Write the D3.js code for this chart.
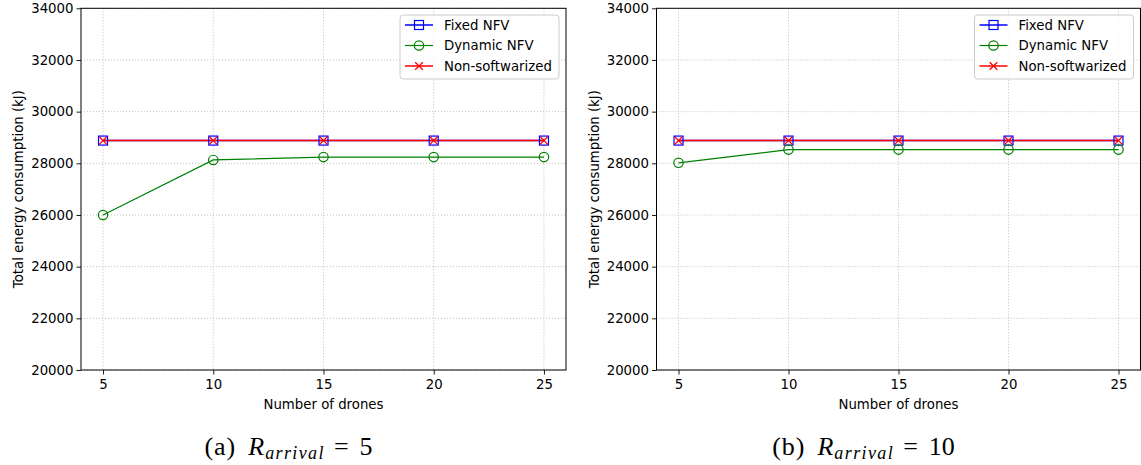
<!DOCTYPE html>
<html><head><meta charset="utf-8">
<script src="https://cdn.jsdelivr.net/npm/d3@7"></script>
<style>body{margin:0;background:#fff}svg{display:block}</style>
</head><body>
<svg id="c" width="1141" height="465"></svg>
<script>
const drones = [5, 10, 15, 20, 25];
const xTicks = [5, 10, 15, 20, 25];
const yTicks = [20000, 22000, 24000, 26000, 28000, 30000, 32000, 34000];
const fixedA = [28880, 28880, 28880, 28880, 28880];
const dynamicA = [26000, 28130, 28240, 28240, 28240];
const nonSoftA = [28880, 28880, 28880, 28880, 28880];
const fixedB = [28880, 28880, 28880, 28880, 28880];
const dynamicB = [28020, 28530, 28530, 28530, 28530];
const nonSoftB = [28880, 28880, 28880, 28880, 28880];
const seriesNames = ["Fixed NFV", "Dynamic NFV", "Non-softwarized"];
const captionLetters = ["(a)", "(b)"];
const captionValues = ["5", "10"];

const svg = d3.select("#c");
const font = "'DejaVu Sans', sans-serif";
const colors = ["#0000ff", "#008000", "#ff0000"];

function drawMarker(g, type, x, y) {
  if (type === 0) {
    g.append("rect").attr("x", x - 4.5).attr("y", y - 4.5).attr("width", 9).attr("height", 9)
      .attr("fill", "none").attr("stroke", colors[0]).attr("stroke-width", 1.2);
  } else if (type === 1) {
    g.append("circle").attr("cx", x).attr("cy", y).attr("r", 4.7)
      .attr("fill", "none").attr("stroke", colors[1]).attr("stroke-width", 1.2);
  } else {
    const s = 3.8;
    g.append("path").attr("d", `M${x-s},${y-s}L${x+s},${y+s}M${x-s},${y+s}L${x+s},${y-s}`)
      .attr("stroke", colors[2]).attr("stroke-width", 1.3).attr("fill", "none");
  }
}

function panel(left, right, data, caption, capVal) {
  const top = 8.3, bottom = 370;
  const x = d3.scaleLinear().domain([4, 26]).range([left, right]);
  const y = d3.scaleLinear().domain([20000, 34000]).range([bottom, top]);
  const g = svg.append("g");
  g.selectAll(".gx").data(xTicks).enter().append("line")
    .attr("x1", d => x(d)).attr("x2", d => x(d)).attr("y1", top).attr("y2", bottom)
    .attr("stroke", "#b0b0b0").attr("stroke-width", 0.8).attr("stroke-dasharray", "1,2");
  g.selectAll(".gy").data(yTicks).enter().append("line")
    .attr("x1", left).attr("x2", right).attr("y1", d => y(d)).attr("y2", d => y(d))
    .attr("stroke", "#b0b0b0").attr("stroke-width", 0.8).attr("stroke-dasharray", "1,2");
  const ax = g.append("g").attr("transform", `translate(0,${bottom})`)
    .call(d3.axisBottom(x).tickValues(xTicks).tickSize(4.5).tickPadding(5).tickSizeOuter(0));
  const ay = g.append("g").attr("transform", `translate(${left},0)`)
    .call(d3.axisLeft(y).tickValues(yTicks).tickSize(4.5).tickPadding(3).tickSizeOuter(0).tickFormat(d3.format("d")));
  [ax, ay].forEach(a => {
    a.select(".domain").remove();
    a.selectAll("line").attr("stroke", "#000").attr("stroke-width", 0.9);
    a.selectAll("text").attr("font-family", font).attr("font-size", 13.3).attr("fill", "#000");
  });
  g.append("rect").attr("x", left).attr("y", top).attr("width", right - left).attr("height", bottom - top)
    .attr("fill", "none").attr("stroke", "#000").attr("stroke-width", 1);
  const line = d3.line().x((d, i) => x(drones[i])).y(d => y(d));
  data.forEach((vals, k) => {
    g.append("path").datum(vals).attr("d", line).attr("fill", "none")
      .attr("stroke", colors[k]).attr("stroke-width", k === 1 ? 1.2 : 1.5);
  });
  data.forEach((vals, k) => {
    vals.forEach((v, i) => drawMarker(g, k, x(drones[i]), y(v)));
  });
  const cx = (left + right) / 2;
  g.append("text").attr("x", cx).attr("y", 409).attr("text-anchor", "middle")
    .attr("font-family", font).attr("font-size", 13.3).text("Number of drones");
  g.append("text").attr("transform", `translate(${left - 58},${(top + bottom) / 2}) rotate(-90)`)
    .attr("text-anchor", "middle").attr("font-family", font).attr("font-size", 13.3)
    .text("Total energy consumption (kJ)");
  const lw = 159, lh = 64, lx = right - 7 - lw, ly = 15;
  g.append("rect").attr("x", lx).attr("y", ly).attr("width", lw).attr("height", lh)
    .attr("rx", 3).attr("fill", "#fff").attr("fill-opacity", 0.8)
    .attr("stroke", "#cccccc").attr("stroke-width", 1);
  seriesNames.forEach((n, k) => {
    const yy = ly + 10 + k * 20.5;
    g.append("line").attr("x1", lx + 5).attr("x2", lx + 33).attr("y1", yy).attr("y2", yy)
      .attr("stroke", colors[k]).attr("stroke-width", k === 1 ? 1.2 : 1.5);
    drawMarker(g, k, lx + 19, yy);
    g.append("text").attr("x", lx + 44).attr("y", yy + 4.7).attr("font-family", font)
      .attr("font-size", 13.3).text(n);
  });
  const cap = g.append("text").attr("x", cx - 35).attr("y", 455).attr("text-anchor", "middle")
    .attr("font-family", "'Liberation Serif', 'DejaVu Serif', serif").attr("font-size", 26);
  cap.append("tspan").attr("letter-spacing", 1).text(caption);
  cap.append("tspan").attr("dx", 12).attr("font-style", "italic").text("R");
  cap.append("tspan").attr("font-style", "italic").attr("font-size", 18).attr("dy", 4)
    .attr("dx", 1).attr("letter-spacing", 1.4).text("arrival");
  cap.append("tspan").attr("dy", -4).attr("dx", 9).text("=");
  cap.append("tspan").attr("dx", 11).text(capVal);
}

panel(81, 566, [fixedA, dynamicA, nonSoftA], captionLetters[0], captionValues[0]);
panel(656.5, 1140.5, [fixedB, dynamicB, nonSoftB], captionLetters[1], captionValues[1]);
</script>
</body></html>
